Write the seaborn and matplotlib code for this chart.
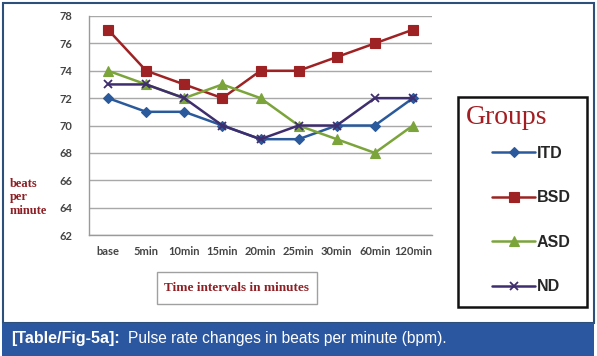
import matplotlib
matplotlib.use("Agg")
import matplotlib.pyplot as plt
import seaborn as sns
import pandas as pd
from matplotlib.patches import Rectangle
from matplotlib.lines import Line2D

categories = ["base", "5min", "10min", "15min", "20min", "25min", "30min", "60min", "120min"]
itd = [72, 71, 71, 70, 69, 69, 70, 70, 72]
bsd = [77, 74, 73, 72, 74, 74, 75, 76, 77]
asd = [74, 73, 72, 73, 72, 70, 69, 68, 70]
nd = [73, 73, 72, 70, 69, 70, 70, 72, 72]
groups = ["ITD", "BSD", "ASD", "ND"]
yticks = [62, 64, 66, 68, 70, 72, 74, 76, 78]

colors = {"ITD": "#2a5a9c", "BSD": "#9e2223", "ASD": "#7ba43a", "ND": "#3f2e6e"}
markers = {"ITD": "D", "BSD": "s", "ASD": "^", "ND": "x"}
msizes = {"ITD": 5, "BSD": 7, "ASD": 7, "ND": 6}

rows = []
for g, vals in zip(groups, [itd, bsd, asd, nd]):
    for c, v in zip(categories, vals):
        rows.append({"Time": c, "Pulse": v, "Group": g})
df = pd.DataFrame(rows)

sns.set_style("white")
W, H = 597, 356
fig = plt.figure(figsize=(W / 100, H / 100), dpi=100)

def fx(x):
    return x / W

def fy(y):
    return 1 - y / H

ax = fig.add_axes([fx(89), fy(235), (432 - 89) / W, (235 - 16) / H])

for g in groups:
    sub = df[df["Group"] == g]
    sns.lineplot(data=sub, x="Time", y="Pulse", ax=ax, color=colors[g],
                 marker=markers[g], markersize=msizes[g], linewidth=1.8,
                 markeredgecolor=colors[g], markeredgewidth=1.3 if g == "ND" else 0.8,
                 sort=False, legend=False)

ax.set_xlim(-0.5, len(categories) - 0.5)
ax.set_ylim(62, 78)
ax.set_yticks(yticks)
ax.set_yticklabels([str(t) for t in yticks], fontsize=8, fontweight="bold",
                   color="#444444", family="Lato")
ax.set_xticks(range(len(categories)))
ax.set_xticklabels(categories, fontsize=8, fontweight="bold", color="#444444", family="Lato")
ax.set_xticks([i - 0.5 for i in range(len(categories) + 1)], minor=True)
ax.tick_params(axis="x", which="major", length=0, pad=8)
ax.tick_params(axis="x", which="minor", length=4, color="#9a9a9a", width=1, direction="out")
ax.tick_params(axis="y", which="major", length=4, color="#9a9a9a", width=1, direction="out", pad=8)
ax.grid(axis="y", color="#a8a8a8", linewidth=1)
ax.set_axisbelow(True)
for s in ["top", "right"]:
    ax.spines[s].set_visible(False)
for s in ["left", "bottom"]:
    ax.spines[s].set_color("#9a9a9a")
    ax.spines[s].set_linewidth(1)
ax.set_xlabel("")
ax.set_ylabel("")

red = "#8e1f24"
# y label
fig.text(fx(10), fy(178), "beats\nper\nminute", ha="left", va="top", fontsize=9,
         fontweight="bold", color=red, family="Liberation Serif", linespacing=1.15)

# x label box
fig.patches.append(Rectangle((fx(157), fy(304)), (317 - 157) / W, (304 - 272) / H,
                             transform=fig.transFigure, fill=False, edgecolor="#a0a0a0",
                             linewidth=1))
fig.text(fx(237), fy(288), "Time intervals in minutes", ha="center", va="center",
         fontsize=9.5, fontweight="bold", color=red, family="Liberation Serif")

# legend box
fig.patches.append(Rectangle((fx(458), fy(307)), (587 - 458) / W, (307 - 97) / H,
                             transform=fig.transFigure, fill=False, edgecolor="#111111",
                             linewidth=1.8))
fig.text(fx(466), fy(118), "Groups", ha="left", va="center", fontsize=20,
         color="#a21e22", family="Liberation Serif")
handles = [Line2D([], [], color=colors[g], marker=markers[g], markersize=msizes[g],
                  markeredgecolor=colors[g], markeredgewidth=1.3 if g == "ND" else 0.8,
                  linewidth=1.8) for g in groups]
leg = fig.legend(handles, groups, loc="upper left", bbox_to_anchor=(fx(492), fy(146)),
                 frameon=False, handlelength=2.7, handletextpad=0.12, labelspacing=1.84,
                 borderaxespad=0, borderpad=0,
                 prop={"family": "Liberation Sans", "weight": "bold", "size": 11.5})

# outer frame
fig.patches.append(Rectangle((fx(3), fy(323)), (594 - 3) / W, (323 - 3) / H,
                             transform=fig.transFigure, fill=False, edgecolor="#2c4f7c",
                             linewidth=1.5))
# caption bar
fig.patches.append(Rectangle((fx(2), 0), (594 - 2) / W, (356 - 323) / H,
                             transform=fig.transFigure, facecolor="#2b57a1", edgecolor="none"))
fig.text(fx(11), fy(339), "[Table/Fig-5a]:", ha="left", va="center", fontsize=11.5,
         fontweight="bold", color="white", family="Liberation Sans")
fig.text(fx(128), fy(339), "Pulse rate changes in beats per minute (bpm).", ha="left",
         va="center", fontsize=11.2, color="white", family="Liberation Sans")

fig.savefig("out.png", dpi=100)
